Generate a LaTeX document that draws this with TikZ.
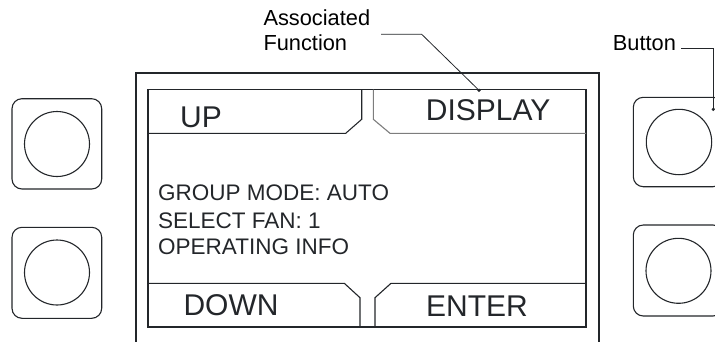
\documentclass[tikz,border=0pt]{standalone}
\usepackage{fontspec}
\setmainfont{Liberation Sans}
\usepackage{xcolor}
\usepackage{tikz}
\usetikzlibrary{positioning}
\definecolor{inkgray}{RGB}{35, 38, 42}
\definecolor{tabgray}{RGB}{125, 125, 125}

\tikzset{
  frameline/.style={line width=1.2pt, inkgray},
  tabline/.style={line width=1.1pt, inkgray},
  keyframe/.style={line width=1.1pt, inkgray, rounded corners=10pt},
  keyface/.style={line width=1.1pt, inkgray},
  leader/.style={line width=0.8pt, inkgray},
  bigtxt/.style={anchor=base west, inner sep=0pt, inkgray, font=\fontsize{30}{36}\selectfont},
  screentxt/.style={anchor=base west, inner sep=0pt, inkgray, font=\fontsize{22.5}{27}\selectfont},
  calltxt/.style={anchor=base west, inner sep=0pt, black, font=\fontsize{21.8}{26}\selectfont}
}

\begin{document}
\begin{tikzpicture}[x=1pt, y=-1pt]
  \useasboundingbox (0,0) rectangle (715,341);
  \clip (0,0) rectangle (715,341);
  % housing and screen
  \draw[frameline] (136,345) -- (136,73) -- (599,73) -- (599,345);
  \draw[tabline] (148,89.5) rectangle (586,327);
  % soft key tabs
  \draw[tabline] (148,133.3) -- (345.7,133.3) -- (361.7,119.3) -- (361.7,89.5);
  \draw[tabline, tabgray] (373.3,89.5) -- (373.3,119.3) -- (390,133.3) -- (586,133.3);
  \draw[tabline] (148,283.3) -- (344.3,283.3) -- (360,297.7) -- (360,327);
  \draw[tabline] (375,327) -- (375,297.7) -- (391,283.3) -- (586,283.3);
  \node[bigtxt] (up) at (180,127.3) {UP};
  \node[bigtxt] (display) at (425.7,120.7) {DISPLAY};
  \node[bigtxt] (down) at (183.3,315.7) {DOWN};
  \node[bigtxt] (enter) at (426,316.7) {ENTER};
  \node[screentxt] (mode) at (158,200.7) {GROUP MODE: AUTO};
  \node[screentxt] (fan) at (158,228.3) {SELECT FAN: 1};
  \node[screentxt] (info) at (158,254.3) {OPERATING INFO};
  % buttons
  \draw[keyframe] (12,98.7) rectangle (101.7,189);
  \draw[keyface] (57,144) circle (32.5);
  \draw[keyframe] (12,227.3) rectangle (101.7,318.3);
  \draw[keyface] (57,272.5) circle (32.5);
  \draw[keyframe] (633.3,97.3) rectangle (723,186.7);
  \draw[keyface] (679,142) circle (32.7);
  \draw[keyframe] (633.3,225) rectangle (723,316);
  \draw[keyface] (678.5,270.8) circle (32.5);
  % callouts
  \node[calltxt] (assoc) at (263.3,25.3) {Associated};
  \node[calltxt] (func) at (263.3,50.3) {Function};
  \coordinate (funcstart) at (381,34.3);
  \coordinate (funcbend) at (421.7,34.3);
  \coordinate (funcdot) at (479,90.3);
  \draw[leader] (funcstart) -- (funcbend) -- (funcdot);
  \fill[inkgray] (funcdot) circle (1.8);
  \node[calltxt] (btn) at (612.7,50.7) {Button};
  \coordinate (btnstart) at (681,48.3);
  \coordinate (btnbend) at (713.3,48.3);
  \coordinate (btndot) at (713.3,109.3);
  \draw[leader] (btnstart) -- (btnbend) -- (btndot);
  \fill[inkgray] (btndot) circle (1.8);
\end{tikzpicture}
\end{document}
